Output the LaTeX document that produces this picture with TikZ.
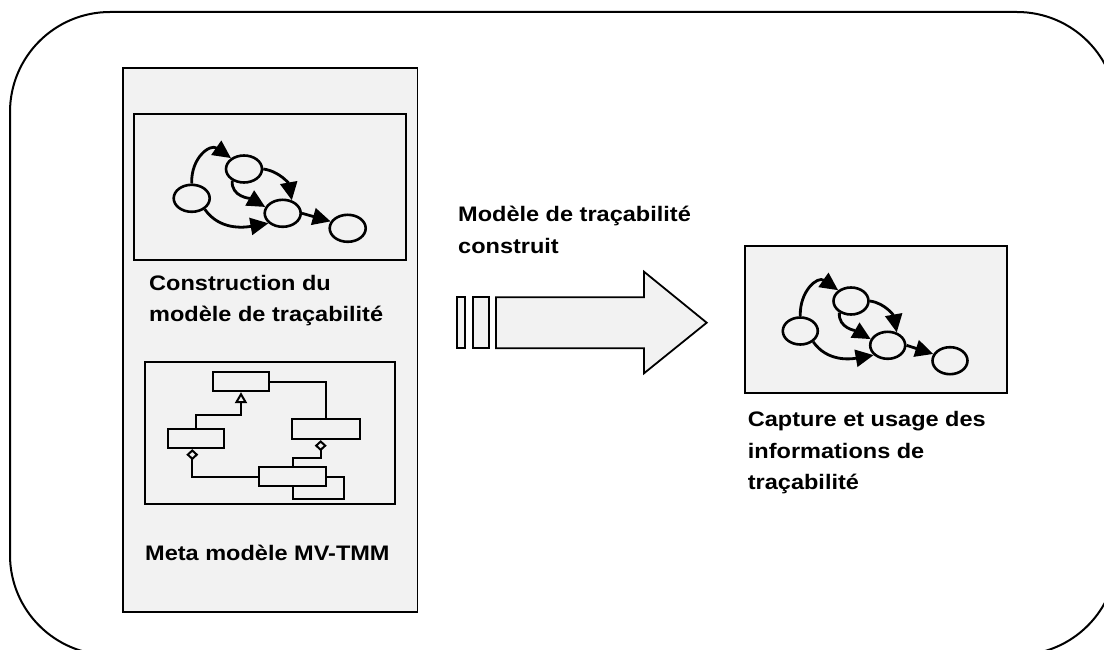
\documentclass[tikz,border=0pt]{standalone}
\usepackage{graphicx}
\usepackage{fontspec}
\setmainfont{Liberation Sans}
\usetikzlibrary{arrows.meta,shapes.geometric}
\definecolor{panel}{HTML}{F2F2F2}
\newcommand\mylbl[1]{\scalebox{1.12}[1]{\begin{tabular}[t]{@{}l@{}}#1\end{tabular}}}
\tikzset{
  frame/.style={draw=black,line width=1.8pt,fill=panel},
  ell/.style={ellipse,draw=black,line width=2.6pt,fill=panel,minimum width=36pt,minimum height=27pt,inner sep=0pt},
  ell2/.style={ell,minimum width=35pt,minimum height=27pt},
  garrow/.style={line width=2.8pt,-{Triangle[length=18pt 0,width=17pt 0]}},
  umlbox/.style={draw=black,line width=2.3pt,inner sep=0pt},
  uml/.style={draw=black,line width=2pt},
  lab/.style={anchor=base west,inner sep=0pt,font=\fontsize{21}{31.5}\selectfont\bfseries}
}
\begin{document}
\begin{tikzpicture}[x=1pt,y=1pt]
\useasboundingbox (0,0) rectangle (1104,-650);
\begin{scope}
\clip (0,0) rectangle (1104,-650);
\draw[line width=2pt,rounded corners=100pt] (10,-12) rectangle (1117,-655);
\end{scope}

% left panel
\draw[frame] (122.7,-68) rectangle (417.5,-612);
\draw[frame,line width=2.2pt] (134,-114) rectangle (406,-260);
\draw[frame,line width=2.2pt] (144.7,-362) rectangle (395,-504);

% left graph
\node[ell] (e1) at (191.7,-198.3) {};
\node[ell] (e2) at (244,-169) {};
\node[ell] (e3) at (282.7,-213.3) {};
\node[ell] (e4) at (347.7,-228.3) {};
\draw[garrow] (e1.north) to[out=92,in=145,looseness=1.4] (e2.140);
\draw[garrow] (e2.east) to[out=-8,in=100] (e3.55);
\draw[garrow] (e2.225) to[out=-95,in=150] (e3.160);
\draw[garrow] (e1.-40) to[out=-55,in=190] (e3.215);
\draw[garrow] (e3.east) -- (e4.158);

\node[lab] (t1) at (149,-290) {\mylbl{Construction du\\modèle de traçabilité}};

% UML
\node[umlbox,minimum width=56pt,minimum height=19pt] (uA) at (241,-381.5) {};
\node[umlbox,minimum width=56pt,minimum height=19pt] (uB) at (196,-438.5) {};
\node[umlbox,minimum width=68pt,minimum height=20pt] (uC) at (326,-429) {};
\node[umlbox,minimum width=67pt,minimum height=19pt] (uD) at (292.5,-476.5) {};
\draw[uml,-{Triangle[open,length=11pt 0,width=12pt 0]}] (uB.north) |- ([yshift=-23pt]uA.south) -- (uA.south);
\draw[uml] (uA.east) -| (uC.north);
\draw[uml,{Diamond[open,length=11pt 0,width=12pt 0]}-] ([xshift=-5.3pt]uC.south) -- ++(0,-18.3) -| (uD.north);
\draw[uml,{Diamond[open,length=11pt 0,width=12pt 0]}-] ([xshift=-3.7pt]uB.south) |- (uD.west);
\draw[uml] (uD.east) -- ++(16.7,0) |- ([yshift=-11.7pt]uD.south) -- (uD.south);

\node[lab] (t2) at (145,-560) {\mylbl{Meta modèle MV-TMM}};

% big arrow
\draw[frame] (457.3,-297.3) rectangle (465,-348.3);
\draw[frame] (472.7,-297.3) rectangle (488.7,-348.3);
\draw[frame,line join=miter] (496,-297.3) -- (644,-297.3) -- (644,-271.7) -- (706.7,-322.7) -- (644,-373.3) -- (644,-348.3) -- (496,-348.3) -- cycle;
\node[lab] (t3) at (458,-221.7) {\mylbl{Modèle de traçabilité\\construit}};

% right box
\draw[frame,line width=2.2pt] (744.7,-246) rectangle (1006.7,-393.3);
\node[ell2] (r1) at (800.3,-331) {};
\node[ell2] (r2) at (851,-301) {};
\node[ell2] (r3) at (887.7,-345.3) {};
\node[ell2] (r4) at (950,-360.7) {};
\draw[garrow] (r1.north) to[out=92,in=145,looseness=1.4] (r2.140);
\draw[garrow] (r2.east) to[out=-8,in=100] (r3.55);
\draw[garrow] (r2.225) to[out=-95,in=150] (r3.160);
\draw[garrow] (r1.-40) to[out=-55,in=190] (r3.215);
\draw[garrow] (r3.east) -- (r4.158);

\node[lab] (t4) at (747.7,-426.7) {\mylbl{Capture et usage des\\informations de\\traçabilité}};
\end{tikzpicture}
\end{document}
